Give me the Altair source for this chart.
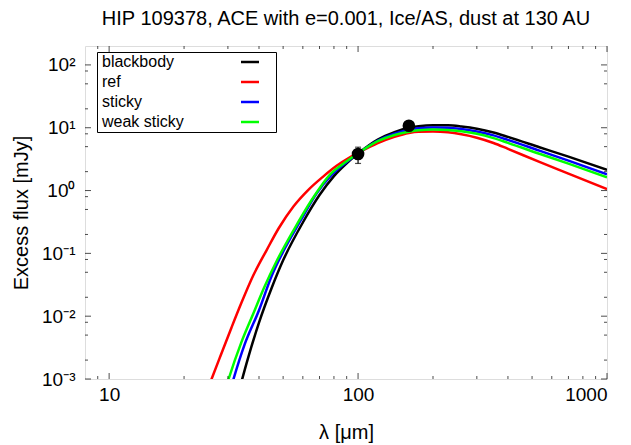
import altair as alt
import pandas as pd

FONT = "Liberation Sans"

# ---- curves: wavelength [um] and excess flux [mJy] ----
bb_wl = [33, 36, 40, 45, 50, 60, 70, 80, 90, 100, 120, 140, 160, 175, 200, 230, 260, 300, 350, 400, 535, 700, 1000]
bb_fx = [5.78e-4, 2.04e-3, 7.88e-3, 0.0283, 0.0774, 0.310, 0.848, 1.70, 2.72, 3.87, 6.45, 8.48,
         10.0, 10.6, 11.0, 10.92, 10.45, 9.64, 8.39, 7.14, 4.90, 3.46, 2.13]

ref_wl = [25, 25.8, 28, 31, 34, 38, 43, 48, 55, 63, 72, 82, 92, 100, 120, 140,
          160, 175, 200, 230, 260, 300, 350, 400, 535, 700, 1000]
ref_fx = [7.20e-4, 1.0e-3, 2.32e-3, 6.55e-3, 0.0163, 0.0451, 0.114, 0.251, 0.557, 1.018, 1.638, 2.476,
          3.316, 3.966, 5.675, 7.145, 8.27, 8.64, 8.70, 8.45, 7.86, 6.94, 5.72, 4.61, 2.86, 1.86, 1.05]

sticky_wl = [30, 31.6, 35, 40, 45, 50, 58.5, 68, 78.3, 90, 100, 120, 140,
             160, 175, 200, 230, 260, 300, 350, 400, 535, 700, 1000]
sticky_fx = [4.89e-4, 1.0e-3, 3.52e-3, 0.01245, 0.0441, 0.1064, 0.322, 0.890, 1.769, 2.854, 3.895, 6.264, 8.06,
             9.30, 9.78, 10.11, 10.0, 9.54, 8.74, 7.55, 6.40, 4.31, 3.00, 1.82]

weak_wl = [29, 30.2, 34, 38, 42, 47, 55, 65, 77.3, 90, 100, 120, 140,
           160, 175, 200, 230, 260, 300, 350, 400, 535, 700, 1000]
weak_fx = [5.89e-4, 1.0e-3, 3.87e-3, 0.01116, 0.02887, 0.0741, 0.2310, 0.7015, 1.814, 2.918, 3.924, 6.106, 7.657,
           8.64, 9.09, 9.36, 9.23, 8.77, 8.00, 6.84, 5.74, 3.85, 2.68, 1.63]

series_names = ["blackbody", "ref", "sticky", "weak sticky"]
series_colors = ["#000000", "#ff0000", "#0000ff", "#00ff00"]

# ---- observations ----
obs_wl = [100, 160]
obs_fx = [3.82, 10.76]
obs_lo = [2.7, 9.8]
obs_hi = [4.9, 11.7]

# ---- axis tick values ----
x_range = [8, 1000]
y_range = [0.001, 200]
x_major = [10, 100, 1000]
x_minor = [9, 20, 30, 40, 50, 60, 70, 80, 90, 200, 300, 400, 500, 600, 700, 800, 900]
y_major = [1e-3, 1e-2, 1e-1, 1e0, 1e1, 1e2]
y_minor = [2e-3, 5e-3, 8e-3, 2e-2, 5e-2, 8e-2, 0.2, 0.5, 0.8, 2, 5, 8, 20, 50, 80]
y_labels = ["10⁻³", "10⁻²", "10⁻¹", "10⁰", "10¹", "10²"]

rows = []
for name, wl, fx in zip(series_names,
                        [bb_wl, ref_wl, sticky_wl, weak_wl],
                        [bb_fx, ref_fx, sticky_fx, weak_fx]):
    for w, f in zip(wl, fx):
        rows.append({"series": name, "wl": w, "flux": f})
curves = pd.DataFrame(rows)
obs = pd.DataFrame({"wl": obs_wl, "flux": obs_fx, "lo": obs_lo, "hi": obs_hi})

xs = alt.Scale(type="log", domain=x_range, nice=False)
ys = alt.Scale(type="log", domain=y_range, nice=False)

label_expr = "[" + ",".join("'%s'" % s for s in y_labels) + "][round(log(datum.value)/LN10)+3]"

ax_x = alt.Axis(values=x_major, ticks=False, domain=False, grid=False, format="d",
                labelFont=FONT, labelFontSize=19, labelColor="black", labelPadding=6,
                title="λ [μm]", titleFont=FONT, titleFontSize=20, titleFontWeight="normal",
                titleColor="black", titlePadding=18)
ax_y = alt.Axis(values=y_major, ticks=False, domain=False, grid=False, labelExpr=label_expr,
                labelFont=FONT, labelFontSize=19, labelColor="black", labelPadding=10,
                title="Excess flux [mJy]", titleFont=FONT, titleFontSize=20,
                titleFontWeight="normal", titleColor="black", titlePadding=10)

lines = alt.Chart(curves).mark_line(strokeWidth=2.5, clip=True, interpolate="monotone").encode(
    x=alt.X("wl:Q", scale=xs, axis=ax_x),
    y=alt.Y("flux:Q", scale=ys, axis=ax_y),
    color=alt.Color("series:N",
                    scale=alt.Scale(domain=series_names, range=series_colors),
                    legend=alt.Legend(orient="none", legendX=12, legendY=6, direction="vertical",
                                      title=None, symbolType="M73.5,0L82.5,0M87.5,0", symbolSize=16,
                                      symbolStrokeWidth=2.5, labelFont=FONT, labelFontSize=16,
                                      labelColor="black", labelOffset=0, symbolOffset=-13,
                                      rowPadding=4, padding=2,
                                      strokeColor="black", fillColor="white")),
    order=alt.Order("wl:Q"),
)

# inward tick marks on all four sides (mirrored like the original frame)
def xticks(values, edge, length, shift):
    df = pd.DataFrame({"v": values, "edge": [edge] * len(values)})
    return alt.Chart(df).mark_tick(orient="vertical", size=length, thickness=1, color="black",
                                   yOffset=shift).encode(
        x=alt.X("v:Q", scale=xs, axis=None), y=alt.Y("edge:Q", scale=ys, axis=None))

def yticks(values, edge, length, shift):
    df = pd.DataFrame({"v": values, "edge": [edge] * len(values)})
    return alt.Chart(df).mark_tick(orient="horizontal", size=length, thickness=1, color="black",
                                   xOffset=shift).encode(
        y=alt.Y("v:Q", scale=ys, axis=None), x=alt.X("edge:Q", scale=xs, axis=None))

tick_layers = [
    xticks(x_major, y_range[0], 6, -3), xticks(x_minor, y_range[0], 3, -1.5),
    xticks(x_major, y_range[1], 6, 3), xticks(x_minor, y_range[1], 3, 1.5),
    yticks(y_major, x_range[0], 6, 3), yticks(y_minor, x_range[0], 3, 1.5),
    yticks(y_major, x_range[1], 6, -3), yticks(y_minor, x_range[1], 3, -1.5),
]

err = alt.Chart(obs).mark_rule(color="black", strokeWidth=1.2).encode(
    x=alt.X("wl:Q", scale=xs, axis=None),
    y=alt.Y("lo:Q", scale=ys, axis=None),
    y2="hi:Q",
)

caps = alt.Chart(obs).transform_fold(["lo", "hi"], as_=["end", "val"]).mark_tick(
    orient="horizontal", color="black", size=6, thickness=1.2).encode(
    x=alt.X("wl:Q", scale=xs, axis=None),
    y=alt.Y("val:Q", scale=ys, axis=None),
)

pts = alt.Chart(obs).mark_circle(size=160, color="black", opacity=1).encode(
    x=alt.X("wl:Q", scale=xs, axis=None),
    y=alt.Y("flux:Q", scale=ys, axis=None),
)

chart = alt.layer(lines, *tick_layers, err, caps, pts).resolve_axis(
    x="independent", y="independent"
).properties(
    width=522, height=333,
    title=alt.TitleParams(text="HIP 109378, ACE with e=0.001, Ice/AS, dust at 130 AU",
                          font=FONT, fontSize=20, fontWeight="normal", color="black",
                          anchor="middle", frame="group", offset=4, dy=-13),
    autosize=alt.AutoSizeParams(type="none"),
    padding={"left": 77, "top": 38, "right": 16, "bottom": 66},
).configure_view(stroke="black", strokeWidth=1).configure(background="white")

chart.save("out.html", embed_options={"renderer": "svg", "actions": False})
